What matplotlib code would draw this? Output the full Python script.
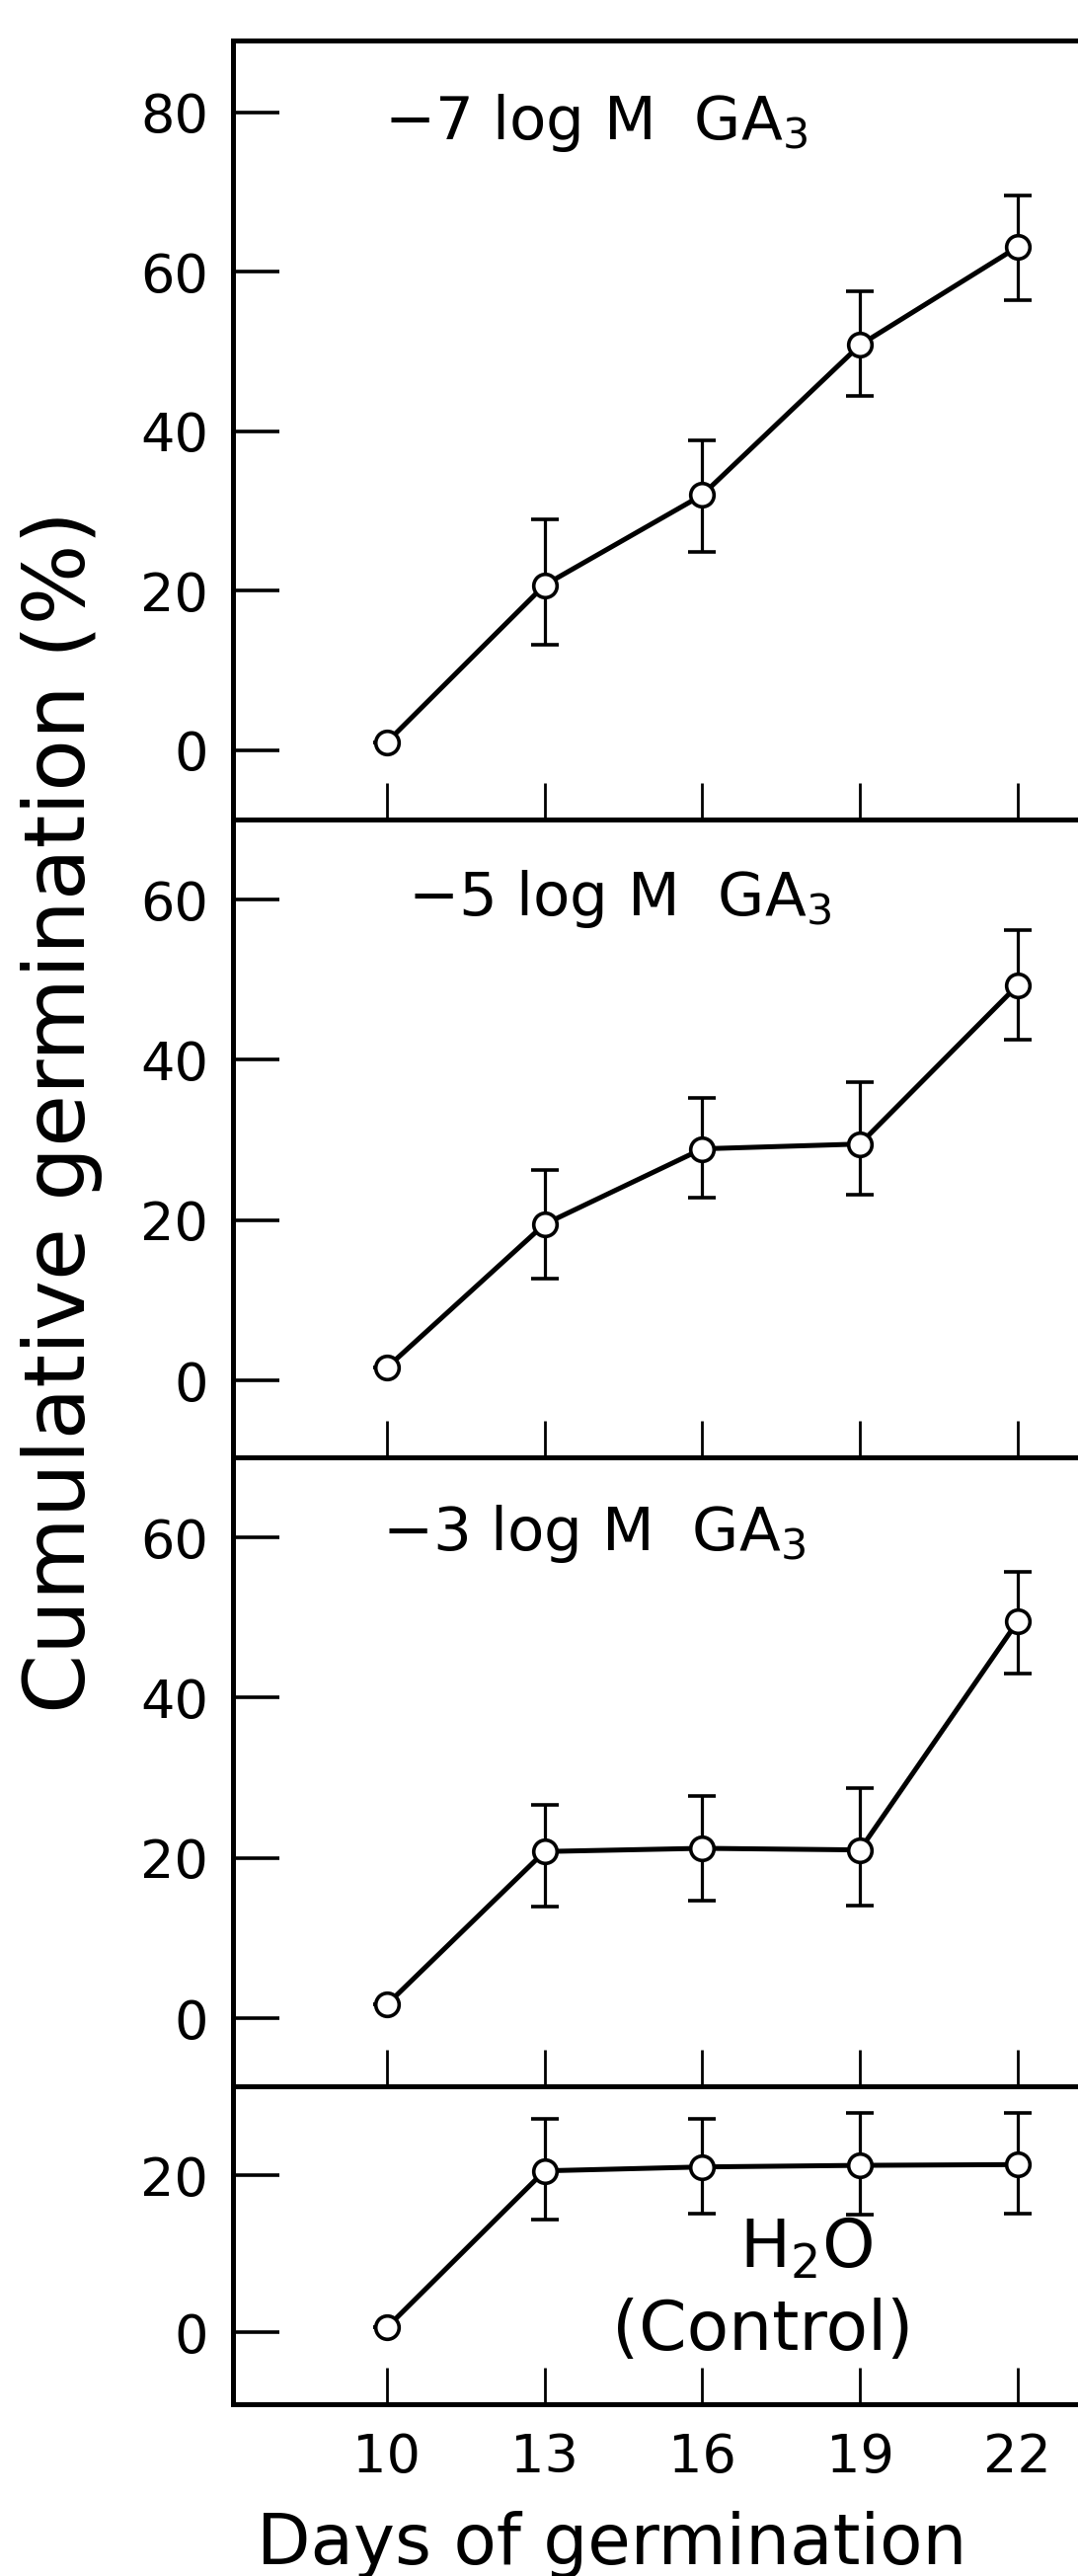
import matplotlib
matplotlib.use('Agg')
import matplotlib.pyplot as plt

plt.rcParams['font.family'] = ['DejaVu Sans']
plt.rcParams['mathtext.default'] = 'regular'

days = [10, 13, 16, 19, 22]

# mean germination (%) and error-bar ends
ga7_mean = [1.0, 20.7, 32.0, 50.8, 63.1]
ga7_low = [1.0, 13.2, 24.9, 44.4, 56.4]
ga7_high = [1.0, 28.9, 38.9, 57.5, 69.5]

ga5_mean = [1.6, 19.5, 28.9, 29.5, 49.3]
ga5_low = [1.6, 12.7, 22.8, 23.2, 42.5]
ga5_high = [1.6, 26.3, 35.3, 37.2, 56.2]

ga3_mean = [1.7, 20.8, 21.2, 21.0, 49.5]
ga3_low = [1.7, 13.9, 14.7, 14.0, 43.0]
ga3_high = [1.7, 26.6, 27.7, 28.7, 55.7]

h2o_mean = [0.6, 20.6, 21.1, 21.3, 21.4]
h2o_low = [0.6, 14.4, 15.1, 15.0, 15.1]
h2o_high = [0.6, 27.3, 27.3, 28.0, 28.0]

panels = [
    ('$-$7 log M  GA$_3$', ga7_mean, ga7_low, ga7_high, [0, 20, 40, 60, 80], (-8.7, 89)),
    ('$-$5 log M  GA$_3$', ga5_mean, ga5_low, ga5_high, [0, 20, 40, 60], (-9.6, 70)),
    ('$-$3 log M  GA$_3$', ga3_mean, ga3_low, ga3_high, [0, 20, 40, 60], (-8.5, 70)),
    (None, h2o_mean, h2o_low, h2o_high, [0, 20], (-9.2, 31.4)),
]

W, H = 1092, 2609
fig = plt.figure(figsize=(W / 100, H / 100), dpi=100)

# panel edges in pixels (top, bottom)
edges = [(41, 830), (830, 1476), (1476, 2113), (2113, 2435)]
left_px = 236

label_pos = [(9.95, 76.6), (10.39, 58.1), (9.9, 58.4)]

for i, (title, mean, low, high, yt, ylim) in enumerate(panels):
    top, bot = edges[i]
    ax = fig.add_axes([left_px / W, 1 - bot / H, 1 - left_px / W, (bot - top) / H])
    ax.patch.set_visible(False)
    yerr = [[m - l for m, l in zip(mean, low)], [h - m for m, h in zip(mean, high)]]
    ax.errorbar(days, mean, yerr=yerr, color='black', lw=3.6, elinewidth=2.3,
                capsize=10, capthick=3, marker='o', ms=17, mfc='white',
                mec='black', mew=2.6, zorder=3)
    ax.set_xlim(7.07, 23.15)
    ax.set_ylim(*ylim)
    ax.set_xticks(days)
    ax.set_yticks(yt)
    ax.spines['right'].set_visible(False)
    if i > 0:
        ax.spines['top'].set_visible(False)
    for s in ['left', 'bottom', 'top']:
        ax.spines[s].set_linewidth(3.6)
    ax.tick_params(axis='y', direction='in', length=34, width=2.6, labelsize=39, pad=18)
    ax.tick_params(axis='x', direction='in', length=27, width=2, labelsize=39, pad=20)
    if i < 3:
        ax.set_xticklabels([])
        ax.text(label_pos[i][0], label_pos[i][1], title, fontsize=44,
                ha='left', va='baseline')
    else:
        ax.text(16.7, 8.2, 'H$_2$O', fontsize=49, ha='left', va='baseline')
        ax.text(17.15, 0.2, '(Control)', fontsize=50, ha='center', va='center')

fig.text(63 / W, 1 - 1126 / H, 'Cumulative germination (%)', rotation=90,
         fontsize=62, ha='center', va='center')
fig.text(620 / W, 1 - 2578 / H, 'Days of germination', fontsize=51,
         ha='center', va='center')

fig.savefig('out.png', dpi=100)
